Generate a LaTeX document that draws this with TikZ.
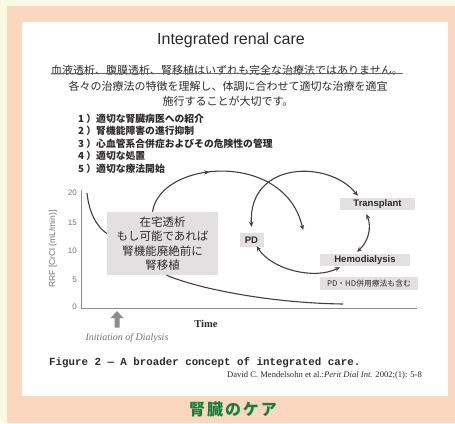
\documentclass[tikz,border=0pt]{standalone}
\usepackage{fontspec}
\setmainfont{Liberation Serif}
\setsansfont{Liberation Sans}
\setmonofont{Liberation Mono}
\newfontfamily\jp{Noto Sans CJK JP}
\newfontfamily\jpsp{Noto Sans CJK JP}[LetterSpace=12]
\usetikzlibrary{arrows.meta,calc,decorations.markings}
\definecolor{cream}{RGB}{251,249,228}
\definecolor{peach}{RGB}{250,215,190}
\definecolor{jgreen}{RGB}{22,128,62}
\definecolor{txt}{RGB}{45,42,42}
\definecolor{lbox}{RGB}{226,224,224}
\definecolor{conncol}{RGB}{70,62,62}
\begin{document}
\begin{tikzpicture}[x=1pt,y=-1pt,
  every node/.style={text=txt,inner sep=0pt},
  conn/.style={draw=conncol,line width=1.1pt},
  twoway/.style={conn,{Stealth[length=5pt,width=4.5pt]}-{Stealth[length=5pt,width=4.5pt]}},
  oneway/.style={conn,-{Stealth[length=5pt,width=4.5pt]}},
  tag/.style={fill=lbox,font=\sffamily\bfseries\fontsize{9.5}{10}\selectfont,align=center},
  tick/.style={anchor=east,text=black!55,font=\sffamily\fontsize{8}{8}\selectfont},
  item/.style={anchor=west,font=\jp\bfseries\fontsize{9.8}{10}\selectfont},
  head/.style={font=\jp\fontsize{11}{12}\selectfont}]
\useasboundingbox (0,0) rectangle (455,423);
\fill[cream] (0,0) rectangle (455,423);
\fill[peach] (7,6) rectangle (455,423);
\fill[white] (22,22) rectangle (448,396);

% heading
\node[font=\sffamily\fontsize{16}{18}\selectfont] (title) at (231,40) {Integrated renal care};
\node[head] (l1) at (227,70) {血液透析、腹膜透析、腎移植はいずれも完全な治療法ではありません。};
\draw[black!60,line width=0.8pt] ($(l1.south west)+(0,-2)$) -- ($(l1.south east)+(0,-2)$);
\node[head] (l2) at (228,86) {各々の治療法の特徴を理解し、体調に合わせて適切な治療を適宜};
\node[head] (l3) at (228,101) {施行することが大切です。};

% list
\node[item] (i1) at (78,119) {1 ）適切な腎臓病医への紹介};
\node[item] (i2) at (78,131) {2 ）腎機能障害の進行抑制};
\node[item] (i3) at (78,144) {3 ）心血管系合併症およびその危険性の管理};
\node[item] (i4) at (78,156) {4 ）適切な処置};
\node[item] (i5) at (78,169) {5 ）適切な療法開始};

% axes
\coordinate (o) at (81,308);
\draw[black!45,line width=0.8pt] (81,190) -- (o) -- (417,308);
\node[tick] (t20) at (77,193) {20};
\node[tick] (t15) at (77,223) {15};
\node[tick] (t10) at (77,251) {10};
\node[tick] (t5) at (77,280) {5};
\node[tick] (t0) at (77,307) {0};
\node[rotate=90,text=black!55,font=\sffamily\fontsize{8.5}{9}\selectfont] (ylab) at (53,249) {RRF [CrCl (mL/min)]};

% dialysis start arrow
\fill[black!45] (117,311) -- (123.5,318) -- (119.5,318) -- (119.5,327.5) -- (114.5,327.5) -- (114.5,318) -- (110.5,318) -- cycle;
\node[text=black!55,font=\itshape\fontsize{10}{10}\selectfont] (init) at (127,338) {Initiation of Dialysis};
\node[font=\bfseries\fontsize{10.5}{11}\selectfont] (time) at (206,324) {Time};

% home box
\node[fill=lbox,minimum width=111pt,minimum height=63pt,align=center,
      font=\jp\fontsize{11.5}{14.5}\selectfont] (home) at (162.5,243.5)
      {在宅透析\\もし可能であれば\\腎機能廃絶前に\\腎移植};

% tags
\node[tag,minimum width=24pt,minimum height=14pt] (pd) at (251.5,240) {PD};
\node[tag,minimum width=75pt,minimum height=12pt] (tr) at (377.5,204) {Transplant};
\node[tag,minimum width=90pt,minimum height=12pt] (hd) at (365,260) {Hemodialysis};
\node[fill=lbox,minimum width=98pt,minimum height=13pt,font=\jp\fontsize{7.8}{8}\selectfont] (note) at (369,283.5) {PD・HD併用療法も含む};

% curves
\coordinate (a0) at (87,193);
\coordinate (b1) at (343,304);
\coordinate (c1) at (303,230);
\draw[conn] (a0) .. controls (89,212) and (96,226) .. ($(home.west)+(0,-10)$);
\draw[conn] ($(home.south)+(4,0)$) .. controls (196,288) and (268,303) .. (b1);
\draw[oneway,postaction={decorate},decoration={markings,mark=at position 0.38 with {\arrow{Stealth[length=5pt,width=4.5pt]}}}]
  ($(home.north)+(-10,0)$) .. controls (160,160) and (285,150) .. (c1);
\draw[twoway] ($(pd.north)+(0,-6)$) .. controls (248,160) and (330,160) .. ($(tr.north west)+(18,-2)$);
\draw[twoway] ($(tr.south)+(-11,4)$) .. controls (372,228) and (368,242) .. ($(hd.north)+(-8,-2)$);
\draw[twoway] ($(pd.south east)+(-7,-1)$) .. controls (272,270) and (315,280) .. ($(hd.south west)+(20,1)$);

% caption
\node[font=\ttfamily\bfseries\fontsize{10.8}{11}\selectfont,anchor=west] (cap) at (49,363) {Figure 2 — A broader concept of integrated care.};
\node[font=\fontsize{8.6}{9}\selectfont,anchor=east] (cite) at (422,375) {David C. Mendelsohn et al.:\textit{Perit Dial Int.} 2002;(1): 5-8};

% footer
\node[font=\jpsp\bfseries\fontsize{16}{16}\selectfont,text=jgreen] (foot) at (233,409) {腎臓のケア};
\end{tikzpicture}
\end{document}
